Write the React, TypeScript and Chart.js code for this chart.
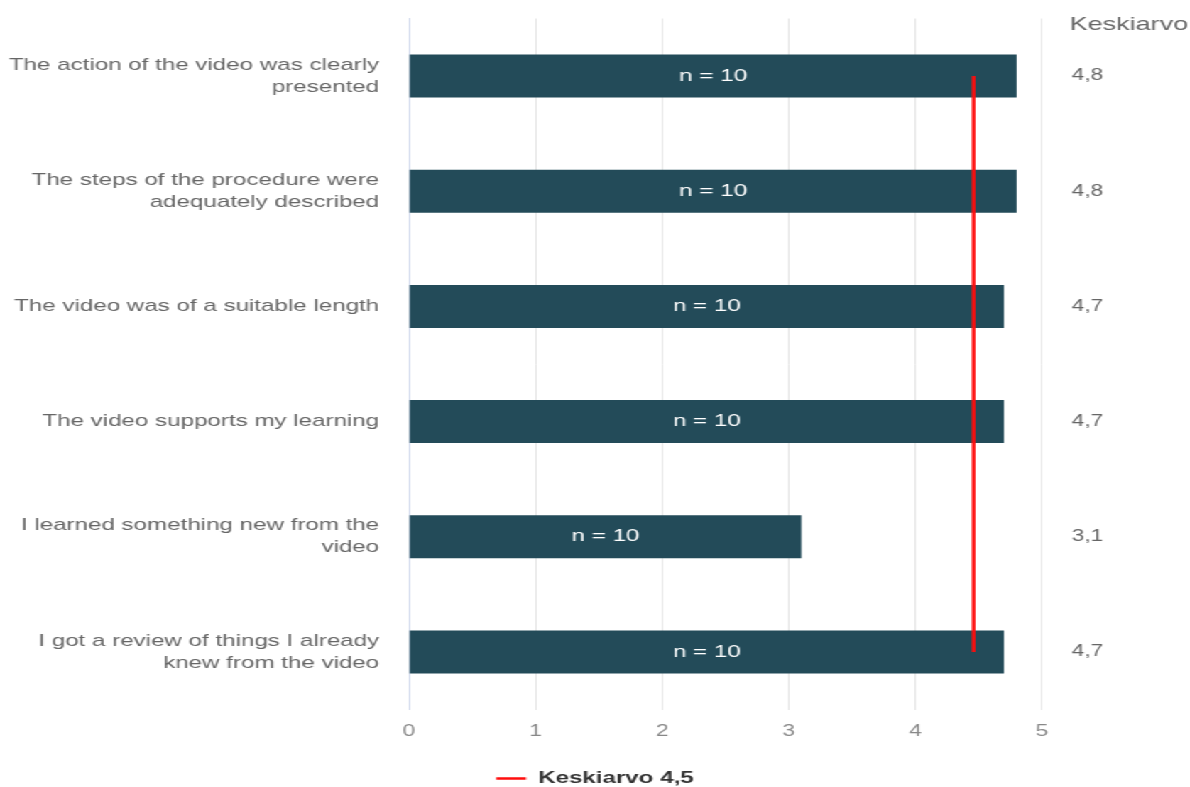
import React, { useEffect, useRef } from 'react';
import { Chart, registerables } from 'chart.js';

Chart.register(...registerables);

// ---- data ----
const categories: string[][] = [
  ['The action of the video was clearly', 'presented'],
  ['The steps of the procedure were', 'adequately described'],
  ['The video was of a suitable length'],
  ['The video supports my learning'],
  ['I learned something new from the', 'video'],
  ['I got a review of things I already', 'knew from the video'],
];
const meanValues = [4.8, 4.8, 4.7, 4.7, 3.1, 4.7];
const meanLabels = ['4,8', '4,8', '4,7', '4,7', '3,1', '4,7'];
const respondentCounts = [10, 10, 10, 10, 10, 10];
const overallMean = 4.46;
// overall mean line: drawn from first to last category (gaps spanned)
const overallMeanLine = [overallMean, null, null, null, null, overallMean];
const overallMeanLabel = 'Keskiarvo 4,5';
const columnHeader = 'Keskiarvo';
const xMin = 0;
const xMax = 5;

// ---- presentation ----
const STRETCH = 1.42;
const PAGE_W = 1190;
const PAGE_H = 787;
const LOGICAL_W = PAGE_W / STRETCH;
const FONT = "'Liberation Sans', Arial, Helvetica, sans-serif";

export default function App() {
  const ref = useRef<HTMLCanvasElement | null>(null);

  useEffect(() => {
    if (!ref.current) return;
    Chart.defaults.font.family = FONT;

    const leftAxisWidth = 409 / STRETCH;
    const rightAxisWidth = LOGICAL_W - 1042 / STRETCH;

    const overlay = {
      id: 'overlay',
      afterDatasetsDraw(chart: any) {
        const ctx = chart.ctx;
        const meta = chart.getDatasetMeta(0);
        ctx.save();
        ctx.font = `17px ${FONT}`;
        ctx.fillStyle = '#ffffff';
        ctx.textAlign = 'center';
        ctx.textBaseline = 'middle';
        meta.data.forEach((el: any, i: number) => {
          ctx.fillText(`n = ${respondentCounts[i]}`, (el.base + el.x) / 2, el.y);
        });
        ctx.restore();
      },
      afterDraw(chart: any) {
        const ctx = chart.ctx;
        ctx.save();
        ctx.font = `19px ${FONT}`;
        ctx.fillStyle = '#666666';
        ctx.textAlign = 'left';
        ctx.textBaseline = 'middle';
        ctx.fillText(columnHeader, chart.chartArea.right + 19.5, 25);
        ctx.restore();
      },
    };

    const noEdgePadding = (s: any) => {
      s.paddingTop = 0;
      s.paddingBottom = 0;
    };

    const chart = new Chart(ref.current, {
      type: 'bar',
      data: {
        labels: categories,
        datasets: [
          {
            type: 'bar',
            label: 'Arvio',
            data: meanValues,
            backgroundColor: '#234b59',
            borderWidth: 0,
            categoryPercentage: 1,
            barPercentage: 0.374,
            xAxisID: 'x',
            yAxisID: 'y',
            order: 1,
          } as any,
          {
            type: 'line',
            label: overallMeanLabel,
            indexAxis: 'y',
            data: overallMeanLine,
            spanGaps: true,
            borderColor: '#ff0d0d',
            backgroundColor: '#ff0d0d',
            borderWidth: 2.5,
            pointRadius: 0,
            pointHoverRadius: 0,
            fill: false,
            xAxisID: 'x',
            yAxisID: 'y',
            order: 0,
          } as any,
        ],
      },
      options: {
        indexAxis: 'y',
        animation: false,
        responsive: true,
        maintainAspectRatio: false,
        layout: { padding: { top: 18.5, bottom: -10, left: 0, right: 0 } },
        scales: {
          x: {
            type: 'linear',
            min: xMin,
            max: xMax,
            position: 'bottom',
            ticks: { stepSize: 1, color: '#888888', font: { size: 16 }, padding: 12 },
            grid: { color: '#e6e6e6', drawTicks: false, lineWidth: 1 },
            border: { display: false },
            afterFit: (s: any) => {
              s.height = 59;
            },
          },
          y: {
            type: 'category',
            position: 'left',
            offset: true,
            ticks: { color: '#666666', font: { size: 17, lineHeight: 1.3 }, padding: 21 },
            grid: { display: false, drawTicks: false, offset: true },
            border: { display: true, color: '#ccd6eb', width: 1 },
            afterFit: (s: any) => {
              s.width = leftAxisWidth;
              noEdgePadding(s);
            },
          },
          y2: {
            type: 'category',
            position: 'right',
            labels: meanLabels,
            offset: true,
            ticks: { color: '#666666', font: { size: 16 }, padding: 21 },
            grid: { display: false, drawTicks: false },
            border: { display: false },
            afterFit: (s: any) => {
              s.width = rightAxisWidth;
              noEdgePadding(s);
            },
          },
        },
        plugins: {
          legend: {
            position: 'bottom',
            labels: {
              boxWidth: 21,
              boxHeight: 2.5,
              padding: 1.5,
              color: '#333333',
              font: { size: 17, weight: 'bold' },
              generateLabels: () => [
                {
                  text: overallMeanLabel,
                  fillStyle: '#ff0d0d',
                  strokeStyle: '#ff0d0d',
                  lineWidth: 0,
                  hidden: false,
                  datasetIndex: 1,
                  fontColor: '#333333',
                } as any,
              ],
            },
          },
          tooltip: { enabled: false },
        },
      } as any,
      plugins: [overlay],
    });

    return () => chart.destroy();
  }, []);

  return (
    <div
      style={{
        position: 'fixed',
        left: 0,
        top: 0,
        width: LOGICAL_W,
        height: PAGE_H,
        transform: `scaleX(${STRETCH})`,
        transformOrigin: '0 0',
        background: '#ffffff',
      }}
    >
      <canvas ref={ref} />
    </div>
  );
}
